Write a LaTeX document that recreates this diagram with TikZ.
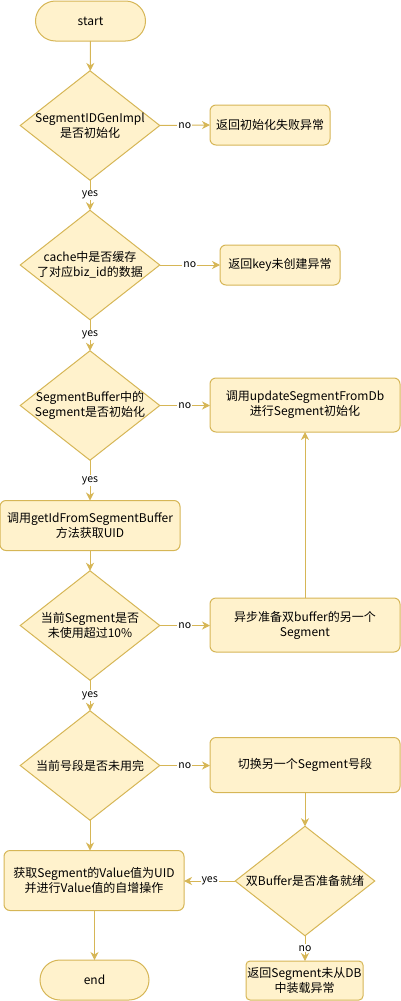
\documentclass[tikz,border=0pt]{standalone}
\usepackage{fontspec}
\setmainfont{Noto Sans CJK SC}
\usetikzlibrary{shapes.geometric,arrows.meta}
\definecolor{fillY}{HTML}{FFF2CC}
\definecolor{lineY}{HTML}{D6B656}
\tikzset{
  base/.style={draw=lineY,fill=fillY,line width=1pt,inner sep=0pt,outer sep=0pt},
  stadium/.style={base,rectangle,rounded corners=20pt},
  rbox/.style={base,rectangle,rounded corners=6pt},
  dia/.style={base,diamond,aspect=1.2727,minimum width=139.5pt,minimum height=109.5pt},
  txt/.style={align=center,font=\fontsize{12}{15}\selectfont,inner sep=0pt},
  lbl/.style={fill=white,font=\fontsize{10.5}{12}\selectfont,inner sep=1pt},
  arr/.style={draw=lineY,line width=1pt,-{Stealth[length=8pt,width=8pt,inset=2.5pt]}}
}
\begin{document}
\begin{tikzpicture}[x=1pt,y=-1pt]
\useasboundingbox (0,0) rectangle (401,1001);
% nodes
\node[stadium,minimum width=110pt,minimum height=40pt] (start) at (90.5,21) {};
\node[txt] at (start) {start};
\node[dia] (d1) at (90,125.5) {};
\node[txt] at (d1) {SegmentIDGenImpl\\是否初始化};
\node[rbox,minimum width=120pt,minimum height=40pt] (b1) at (270,125) {};
\node[txt] at (b1) {返回初始化失败异常};
\node[dia] (d2) at (90,265) {};
\node[txt] at (d2) {cache中是否缓存\\了对应biz\_id的数据};
\node[rbox,minimum width=120pt,minimum height=40pt] (b2) at (280,265) {};
\node[txt] at (b2) {返回key未创建异常};
\node[dia] (d3) at (90,405.5) {};
\node[txt] at (d3) {SegmentBuffer中的\\Segment是否初始化};
\node[rbox,minimum width=190pt,minimum height=54pt] (b3) at (305,405) {};
\node[txt] at (b3) {调用updateSegmentFromDb\\进行Segment初始化};
\node[rbox,minimum width=180pt,minimum height=50pt] (b4) at (90,525.5) {};
\node[txt] at (b4) {调用getIdFromSegmentBuffer\\方法获取UID};
\node[dia] (d4) at (90,625.5) {};
\node[txt] at (d4) {当前Segment是否\\未使用超过10\%};
\node[rbox,minimum width=190pt,minimum height=54pt] (b5) at (305,625) {};
\node[txt] at (b5) {异步准备双buffer的另一个\\Segment};
\node[dia] (d5) at (90,765.5) {};
\node[txt] at (d5) {当前号段是否未用完};
\node[rbox,minimum width=190pt,minimum height=55pt] (b6) at (305,765) {};
\node[txt] at (b6) {切换另一个Segment号段};
\node[dia] (d6) at (305,881) {};
\node[txt] at (d6) {双Buffer是否准备就绪};
\node[rbox,minimum width=180pt,minimum height=60pt] (b7) at (94,880.5) {};
\node[txt] at (b7) {获取Segment的Value值为UID\\并进行Value值的自增操作};
\node[stadium,minimum width=109pt,minimum height=40pt] (end) at (94.5,980) {};
\node[txt] at (end) {end};
\node[rbox,rounded corners=4pt,minimum width=117pt,minimum height=39pt] (b8) at (304.5,980.5) {};
\node[txt] at (b8) {返回Segment未从DB\\中装载异常};
% connectors
\draw[arr] (start) -- (d1);
\draw[arr] (d1.east) -- node[lbl]{no} (b1.west);
\draw[arr] (d1.south) -- node[lbl]{yes} (d2.north);
\draw[arr] (d2.east) -- node[lbl]{no} (b2.west);
\draw[arr] (d2.south) -- node[lbl]{yes} (d3.north);
\draw[arr] (d3.east) -- node[lbl]{no} (d3.east -| b3.west);
\draw[arr] (d3.south) -- node[lbl]{yes} (d3.south |- b4.north);
\draw[arr] (b4.south -| d4.north) -- (d4.north);
\draw[arr] (d4.east) -- node[lbl]{no} (d4.east -| b5.west);
\draw[arr] (b5.north) -- (b3.south);
\draw[arr] (d4.south) -- node[lbl]{yes} (d5.north);
\draw[arr] (d5.east) -- node[lbl]{no} (d5.east -| b6.west);
\draw[arr] (b6.south) -- (d6.north);
\draw[arr] (d5.south) -- (d5.south |- b7.north);
\draw[arr] (d6.west) -- node[lbl]{yes} (d6.west -| b7.east);
\draw[arr] (d6.south) -- node[lbl]{no} (d6.south |- b8.north);
\draw[arr] (b7.south -| end.north) -- (end.north);
\end{tikzpicture}
\end{document}
